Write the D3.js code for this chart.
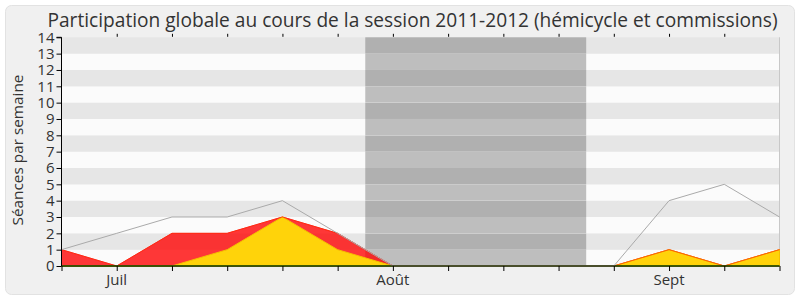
<!DOCTYPE html>
<html><head><meta charset="utf-8">
<script src="https://cdn.jsdelivr.net/npm/d3@7"></script>
<style>body{margin:0;background:#fff}svg{display:block}</style>
</head><body>
<svg id="c" width="800" height="300"></svg>
<script>
const weeks = d3.range(14);
const xLabels = [{i:1,t:"Juil"},{i:6,t:"Août"},{i:11,t:"Sept"}];
const total   = [1,2,3,3,4,2,0,0,0,0,0,4,5,3];
const red     = [1,0,2,2,3,2,0,0,0,0,0,1,0,1];
const yellow  = [0,0,0,1,3,1,0,0,0,0,0,1,0,1];
const green   = [0,0,0,0,0,0,0,0,0,0,0,0,0,0];
const vacation = [5.5, 9.5];
const yTicks = d3.range(0,15);

const svg = d3.select("#c");
const font = "Open Sans, sans-serif";
svg.append("rect").attr("x",5.5).attr("y",5.5).attr("width",789).attr("height",289)
  .attr("rx",6).attr("fill","#f0f0f0").attr("stroke","#e2e2e2");

const x = d3.scaleLinear().domain([0,13]).range([61.5,779.5]);
const y = d3.scaleLinear().domain([0,14]).range([266,37.3]);

const g = svg.append("g");
for (let v=0; v<14; v++){
  g.append("rect").attr("x",x(0)).attr("width",x(13)-x(0))
   .attr("y",y(v+1)).attr("height",y(v)-y(v+1))
   .attr("fill", v%2===0 ? "#fbfbfb" : "#e6e6e6");
  g.append("rect").attr("x",x(vacation[0])).attr("width",x(vacation[1])-x(vacation[0]))
   .attr("y",y(v+1)).attr("height",y(v)-y(v+1))
   .attr("fill", v%2===0 ? "#bebebe" : "#b0b0b0");
}
g.append("line").attr("x1",x(13)).attr("x2",x(13)).attr("y1",y(14)).attr("y2",y(0)).attr("stroke","#c8c8c8");

const area = d => d3.area().x((v,i)=>x(i)).y0(y(0)).y1(v=>y(v))(d);
const line = d => d3.line().x((v,i)=>x(i)).y(v=>y(v))(d);

svg.append("path").attr("d",area(red)).attr("fill","rgba(255,0,0,0.78)").attr("stroke","#ff2a2a").attr("stroke-width",1);
svg.append("path").attr("d",area(yellow)).attr("fill","#ffd30a").attr("stroke","#f5c000").attr("stroke-width",1);
svg.append("path").attr("d",line(red)).attr("fill","none").attr("stroke","rgba(255,40,0,0.6)").attr("stroke-width",1);
svg.append("path").attr("d",line(green)).attr("fill","none").attr("stroke","#00a000").attr("stroke-width",1);
svg.append("path").attr("d",line(total)).attr("fill","none").attr("stroke","#aaaaaa").attr("stroke-width",1);

const yAxis = d3.axisLeft(y).tickValues(yTicks).tickSize(5).tickPadding(2);
const ya = svg.append("g").attr("transform","translate(61.5,0)").call(yAxis);
ya.select(".domain").attr("stroke","#000").attr("d",`M-5,${y(14)}H0V${y(0)}`);
ya.selectAll("text").attr("font-family",font).attr("font-size",15).attr("fill","#333");

const xAxis = d3.axisBottom(x).tickValues(weeks).tickSize(5).tickFormat("");
const xa = svg.append("g").attr("transform",`translate(0,${y(0)})`).call(xAxis);
xa.select(".domain").attr("stroke","#000").attr("d",`M${x(0)},0H${x(13)}`);
xa.selectAll(".tick line").attr("stroke","#000");

const xTop = d3.axisTop(x).tickValues(weeks.slice(1,13)).tickSize(3).tickFormat("");
const xt = svg.append("g").attr("transform",`translate(0,${y(14)-0.5})`).call(xTop);
xt.select(".domain").remove();

svg.selectAll(".xl").data(xLabels).enter().append("text")
  .attr("x",d=>x(d.i)).attr("y",285).attr("text-anchor","middle")
  .attr("font-family",font).attr("font-size",15).attr("fill","#333").text(d=>d.t);

const yl = svg.append("text").attr("transform","translate(23,150) rotate(-90)").attr("text-anchor","middle")
  .attr("font-family",font).attr("font-size",15).attr("fill","#333").text("Séances par semaine");
const yw = yl.node().getComputedTextLength();
yl.attr("font-size", 15*151/yw);

const tt = svg.append("text").attr("x",412.5).attr("y",27).attr("text-anchor","middle")
  .attr("font-family",font).attr("font-size",18).attr("fill","#333")
  .text("Participation globale au cours de la session 2011-2012 (hémicycle et commissions)");
const tw = tt.node().getComputedTextLength();
tt.attr("font-size", 18*731/tw);
</script>
</body></html>
